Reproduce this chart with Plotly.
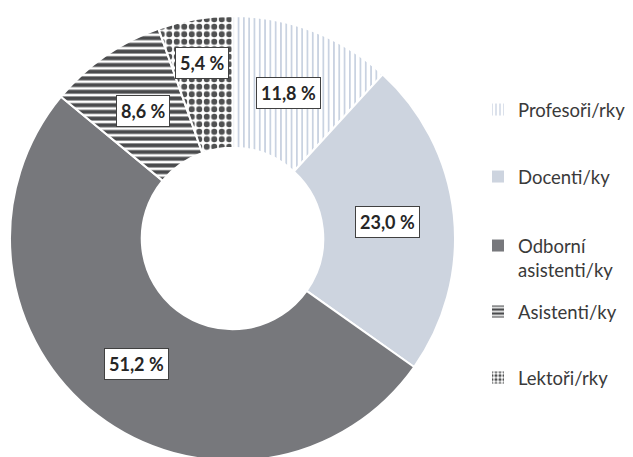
import math
import plotly.graph_objects as go

categories = ["Profesoři/rky", "Docenti/ky", "Odborní asistenti/ky", "Asistenti/ky", "Lektoři/rky"]
legend_labels = ["Profesoři/rky", "Docenti/ky", "Odborní<br>asistenti/ky", "Asistenti/ky", "Lektoři/rky"]
values = [11.8, 23.0, 51.2, 8.6, 5.4]
value_labels = ["11,8 %", "23,0 %", "51,2 %", "8,6 %", "5,4 %"]

# styles
bg_colors = ["white", "#cdd4df", "#77787c", "white", "white"]
fg_colors = ["#c3cede", "#cdd4df", "#77787c", "#4a4b4d", "#4f5051"]
shapes = ["|", "", "", "-", "."]
sizes = [5.3, 8, 8, 6.7, 7.5]
solidities = [0.3, 0.3, 0.3, 0.6, 0.5]
leg_sizes = [5, 8, 8, 5, 5]
label_r = [0.70, 0.70, 0.71, 0.70, 0.80]
legend_y_px = [110, 177, 258, 312, 378]   # screen y of legend entry centres
legend_valign = ["middle", "middle", "top", "middle", "middle"]

W, H = 633, 457
OFF = 8  # page body margin offset
mt, mb, ml, mr = 8, 4, 0, 0
plot_h = H - mt - mb
plot_w = W - ml - mr
R = plot_h / 2
cx_fig = 224.5
cy_fig = mt + R
dom_x = [(cx_fig - R - ml) / plot_w, (cx_fig + R - ml) / plot_w]

fig = go.Figure()
fig.add_trace(go.Pie(
    labels=categories, values=values, sort=False, direction="clockwise",
    rotation=0, hole=0.408, textinfo="none", hoverinfo="label+value",
    showlegend=False,
    marker=dict(colors=bg_colors, line=dict(color="white", width=2),
                pattern=dict(shape=shapes, fgcolor=fg_colors, bgcolor=bg_colors,
                             size=sizes, solidity=solidities, fillmode="replace",
                             fgopacity=1)),
    domain=dict(x=dom_x, y=[0, 1]),
))

# legend entries, one legend each so that they can be spaced like the original
legend_layouts = {}
for i, name in enumerate(legend_labels):
    lname = "legend" if i == 0 else "legend%d" % (i + 1)
    fig.add_trace(go.Bar(
        x=[None], y=[None], name=name, showlegend=True, legend=lname,
        marker=dict(color=bg_colors[i], line=dict(width=0),
                    pattern=dict(shape=shapes[i], fgcolor=fg_colors[i], bgcolor=bg_colors[i],
                                 size=leg_sizes[i], solidity=solidities[i],
                                 fillmode="replace", fgopacity=1)),
    ))
    legend_layouts[lname] = dict(
        x=(478 - OFF - ml) / plot_w, y=1 - (legend_y_px[i] - OFF - mt) / plot_h,
        xref="paper", yref="paper", xanchor="left", yanchor="middle",
        valign=legend_valign[i],
        font=dict(family="Lato", size=18.5, color="#3a3a3a"),
        bgcolor="rgba(0,0,0,0)",
    )

# value labels
total = sum(values)
cum = 0
for i, v in enumerate(values):
    mid = (cum + v / 2) / total * 360
    cum += v
    a = math.radians(mid)
    fx = cx_fig + label_r[i] * R * math.sin(a)
    fy = cy_fig - label_r[i] * R * math.cos(a)
    fig.add_annotation(
        x=(fx - ml) / plot_w, y=1 - (fy - mt) / plot_h, xref="paper", yref="paper",
        xanchor="center", yanchor="middle",
        text="<b>" + value_labels[i] + "</b>", showarrow=False,
        font=dict(family="Lato", size=18, color="#262626"),
        bgcolor="white", bordercolor="#404040", borderwidth=1, borderpad=4,
    )

fig.update_layout(
    width=W, height=H, margin=dict(t=mt, b=mb, l=ml, r=mr),
    paper_bgcolor="white", plot_bgcolor="white",
    xaxis=dict(visible=False), yaxis=dict(visible=False),
    **legend_layouts,
)

fig.write_html("out.html")
